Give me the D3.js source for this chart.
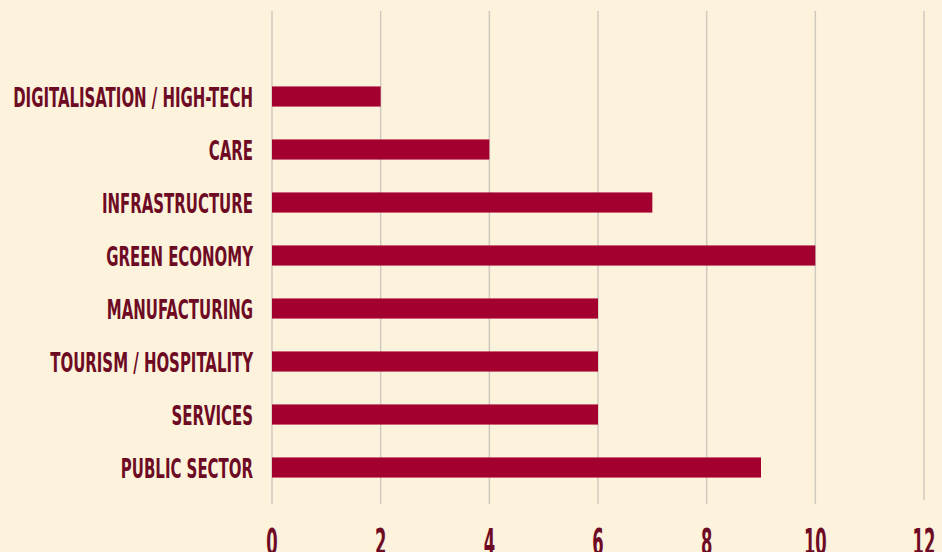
<!DOCTYPE html>
<html>
<head>
<meta charset="utf-8">
<script src="https://cdn.jsdelivr.net/npm/d3@7"></script>
<style>
  body { margin: 0; background: #fdf2dc; }
  svg { display: block; }
  .lbl { font-family: "Liberation Sans Narrow", "DejaVu Sans Condensed", sans-serif; font-weight: bold; fill: #6e0b24; }
</style>
</head>
<body>
<svg id="chart" width="942" height="552"></svg>
<script>
var categories = [
	"DIGITALISATION / HIGH-TECH",
	"CARE",
	"INFRASTRUCTURE",
	"GREEN ECONOMY",
	"MANUFACTURING",
	"TOURISM / HOSPITALITY",
	"SERVICES",
	"PUBLIC SECTOR"
];
var values = [2, 4, 7, 10, 6, 6, 6, 9];
var ticks = [0, 2, 4, 6, 8, 10, 12];

var w = 942,
	h = 552;
var svg = d3.select("#chart");

svg.append("rect").attr("width", w).attr("height", h).attr("fill", "#fdf2dc");

var x = d3.scaleLinear().domain([0, 12]).range([272, 924]);
var y = d3
	.scaleBand()
	.domain(categories)
	.range([70, 494])
	.paddingInner(0.62)
	.paddingOuter(0.31);

// vertical gridlines
svg.append("g")
	.selectAll("line")
	.data(ticks)
	.enter()
	.append("line")
	.attr("x1", d => x(d))
	.attr("x2", d => x(d))
	.attr("y1", 11)
	.attr("y2", d => (d === 12 ? 500 : 504))
	.attr("stroke", "#cfcac0")
	.attr("stroke-width", 1.5);

// bars
svg.append("g")
	.selectAll("rect")
	.data(values)
	.enter()
	.append("rect")
	.attr("x", x(0))
	.attr("y", (d, i) => y(categories[i]))
	.attr("width", d => x(d) - x(0))
	.attr("height", y.bandwidth())
	.attr("fill", "#a3002f");

// squeeze factor to mimic the very condensed face
var probe = svg.append("text").attr("class", "lbl").style("font-size", "27px").text(categories[0]);
var sx = 240 / probe.node().getComputedTextLength();
probe.remove();

// category labels
svg.append("g")
	.selectAll("text")
	.data(categories)
	.enter()
	.append("text")
	.attr("class", "lbl")
	.style("font-size", "27px")
	.attr("text-anchor", "end")
	.attr("transform", d => "translate(253," + (y(d) + y.bandwidth() / 2 + 10) + ") scale(" + sx + ",1)")
	.text(d => d);

// tick labels (cut by the bottom edge, as in the original)
svg.append("g")
	.selectAll("text")
	.data(ticks)
	.enter()
	.append("text")
	.attr("class", "lbl")
	.style("font-size", "37px")
	.attr("text-anchor", "middle")
	.attr("transform", d => "translate(" + x(d) + ",555) scale(" + sx * 0.8 + ",1)")
	.text(d => d);
</script>
</body>
</html>
